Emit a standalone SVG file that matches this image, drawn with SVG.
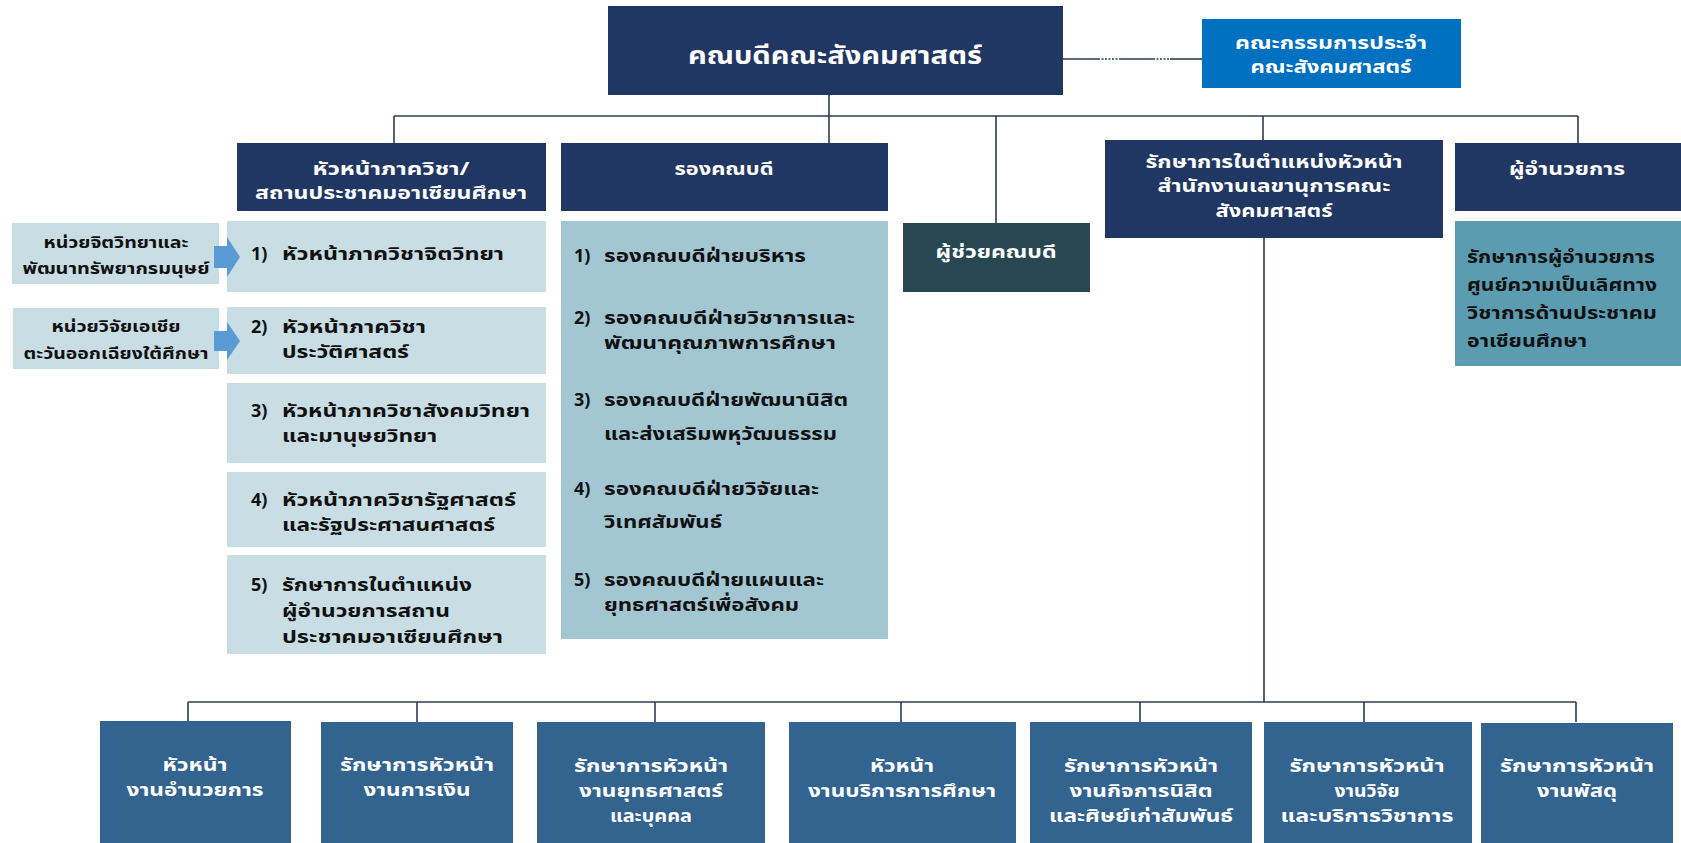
<svg xmlns="http://www.w3.org/2000/svg" width="1681" height="843" viewBox="0 0 1681 843">
<style>
text{font-family:Tahoma,"Noto Sans Thai","Noto Sans","DejaVu Sans",sans-serif;font-weight:bold}
.w{fill:#ffffff}
.k{fill:#111111}
.c{text-anchor:middle}
.t19{font-size:19px}
.t18{font-size:18px}
.t17{font-size:17.5px}
.t16{font-size:16.5px}
.t24{font-size:24px}
.navy{fill:#213763}
.mid{fill:#33638F}
.lt{fill:#C8DDE4}
.lt2{fill:#A3C6D3}
.arrow{fill:#5B9BD5}
.conn line{stroke:#2E3A4F;stroke-width:1.6;fill:none}
</style>
<rect width="1681" height="843" fill="#ffffff"/>
<g class="conn" id="connectors">
<line x1="829" y1="95" x2="829" y2="116"/>
<line x1="394" y1="116" x2="1578" y2="116"/>
<line x1="394" y1="116" x2="394" y2="143"/>
<line x1="829" y1="116" x2="829" y2="143"/>
<line x1="996" y1="116" x2="996" y2="223"/>
<line x1="1263" y1="116" x2="1263" y2="140"/>
<line x1="1578" y1="116" x2="1578" y2="143"/>
<line x1="1063" y1="59" x2="1098" y2="59"/>
<line x1="1098" y1="59" x2="1120" y2="59" stroke-dasharray="2 1.5"/>
<line x1="1120" y1="59" x2="1153" y2="59"/>
<line x1="1153" y1="59" x2="1170" y2="59" stroke-dasharray="2 1.5"/>
<line x1="1170" y1="59" x2="1202" y2="59"/>
<line x1="1264" y1="238" x2="1264" y2="702"/>
<line x1="188" y1="702" x2="1576" y2="702"/>
<line x1="188" y1="702" x2="188" y2="721"/>
<line x1="417" y1="702" x2="417" y2="722"/>
<line x1="655" y1="702" x2="655" y2="722"/>
<line x1="901" y1="702" x2="901" y2="722"/>
<line x1="1140" y1="702" x2="1140" y2="722"/>
<line x1="1364" y1="702" x2="1364" y2="722"/>
<line x1="1576" y1="702" x2="1576" y2="722"/>
</g>
<g id="dean">
<rect x="608" y="6" width="455" height="89" class="navy"/>
<text x="835" y="64" class="w c t24" textLength="294" lengthAdjust="spacingAndGlyphs">คณบดีคณะสังคมศาสตร์</text>
</g>
<g id="committee">
<rect x="1202" y="19" width="259" height="69" fill="#0070C0"/>
<text x="1331" y="49" class="w c t17" textLength="192" lengthAdjust="spacingAndGlyphs">คณะกรรมการประจำ</text>
<text x="1331" y="73" class="w c t17" textLength="161" lengthAdjust="spacingAndGlyphs">คณะสังคมศาสตร์</text>
</g>
<g id="head-dept">
<rect x="237" y="143" width="309" height="68" class="navy"/>
<text x="391" y="175" class="w c t17" textLength="157" lengthAdjust="spacingAndGlyphs">หัวหน้าภาควิชา/</text>
<text x="391" y="199" class="w c t17" textLength="272" lengthAdjust="spacingAndGlyphs">สถานประชาคมอาเซียนศึกษา</text>
</g>
<g id="deputy-dean">
<rect x="561" y="143" width="327" height="68" class="navy"/>
<text x="724" y="175" class="w c t18" textLength="99" lengthAdjust="spacingAndGlyphs">รองคณบดี</text>
</g>
<g id="assistant-dean">
<rect x="903" y="223" width="187" height="69" fill="#274852"/>
<text x="996" y="258" class="w c t18" textLength="121" lengthAdjust="spacingAndGlyphs">ผู้ช่วยคณบดี</text>
</g>
<g id="secretariat">
<rect x="1105" y="140" width="338" height="98" class="navy"/>
<text x="1274" y="168" class="w c t17" textLength="257" lengthAdjust="spacingAndGlyphs">รักษาการในตำแหน่งหัวหน้า</text>
<text x="1274" y="192" class="w c t17" textLength="233" lengthAdjust="spacingAndGlyphs">สำนักงานเลขานุการคณะ</text>
<text x="1274" y="217" class="w c t17" textLength="117" lengthAdjust="spacingAndGlyphs">สังคมศาสตร์</text>
</g>
<g id="director">
<rect x="1455" y="143" width="226" height="68" class="navy"/>
<text x="1567" y="175" class="w c t18" textLength="116" lengthAdjust="spacingAndGlyphs">ผู้อำนวยการ</text>
</g>
<g id="director-sub">
<rect x="1455" y="221" width="226" height="145" fill="#5C9CB1"/>
<text x="1467" y="263" class="k t18" textLength="188" lengthAdjust="spacingAndGlyphs">รักษาการผู้อำนวยการ</text>
<text x="1467" y="291" class="k t18" textLength="190" lengthAdjust="spacingAndGlyphs">ศูนย์ความเป็นเลิศทาง</text>
<text x="1467" y="319" class="k t18" textLength="190" lengthAdjust="spacingAndGlyphs">วิชาการด้านประชาคม</text>
<text x="1467" y="347" class="k t18" textLength="120" lengthAdjust="spacingAndGlyphs">อาเซียนศึกษา</text>
</g>
<g id="unit-psych">
<rect x="12" y="223" width="207" height="61" class="lt"/>
<text x="116" y="248" class="k c t16" textLength="145" lengthAdjust="spacingAndGlyphs">หน่วยจิตวิทยาและ</text>
<text x="116" y="274" class="k c t16" textLength="187" lengthAdjust="spacingAndGlyphs">พัฒนาทรัพยากรมนุษย์</text>
</g>
<g id="unit-sea">
<rect x="13" y="308" width="206" height="61" class="lt"/>
<text x="116" y="332" class="k c t16" textLength="129" lengthAdjust="spacingAndGlyphs">หน่วยวิจัยเอเชีย</text>
<text x="116" y="359" class="k c t16" textLength="185" lengthAdjust="spacingAndGlyphs">ตะวันออกเฉียงใต้ศึกษา</text>
</g>
<g id="dept-1">
<rect x="227" y="221" width="319" height="71" class="lt"/>
<text x="251" y="260" class="k t18">1)</text>
<text x="282" y="260" class="k t18" textLength="222" lengthAdjust="spacingAndGlyphs">หัวหน้าภาควิชาจิตวิทยา</text>
</g>
<g id="dept-2">
<rect x="227" y="307" width="319" height="67" class="lt"/>
<text x="251" y="333" class="k t18">2)</text>
<text x="282" y="333" class="k t18" textLength="144" lengthAdjust="spacingAndGlyphs">หัวหน้าภาควิชา</text>
<text x="282" y="358" class="k t18" textLength="127" lengthAdjust="spacingAndGlyphs">ประวัติศาสตร์</text>
</g>
<g id="dept-3">
<rect x="227" y="383" width="319" height="80" class="lt"/>
<text x="251" y="417" class="k t18">3)</text>
<text x="282" y="417" class="k t18" textLength="248" lengthAdjust="spacingAndGlyphs">หัวหน้าภาควิชาสังคมวิทยา</text>
<text x="282" y="442" class="k t18" textLength="155" lengthAdjust="spacingAndGlyphs">และมานุษยวิทยา</text>
</g>
<g id="dept-4">
<rect x="227" y="472" width="319" height="75" class="lt"/>
<text x="251" y="506" class="k t18">4)</text>
<text x="282" y="506" class="k t18" textLength="234" lengthAdjust="spacingAndGlyphs">หัวหน้าภาควิชารัฐศาสตร์</text>
<text x="282" y="531" class="k t18" textLength="213" lengthAdjust="spacingAndGlyphs">และรัฐประศาสนศาสตร์</text>
</g>
<g id="dept-5">
<rect x="227" y="555" width="319" height="99" class="lt"/>
<text x="251" y="591" class="k t18">5)</text>
<text x="282" y="591" class="k t18" textLength="190" lengthAdjust="spacingAndGlyphs">รักษาการในตำแหน่ง</text>
<text x="282" y="617" class="k t18" textLength="168" lengthAdjust="spacingAndGlyphs">ผู้อำนวยการสถาน</text>
<text x="282" y="643" class="k t18" textLength="221" lengthAdjust="spacingAndGlyphs">ประชาคมอาเซียนศึกษา</text>
</g>
<g id="arrows">
<path d="M214,246 h13 v-9 l13,20 l-13,20 v-9 h-13 z" class="arrow"/>
<path d="M214,331 h13 v-9 l13,19 l-13,19 v-9 h-13 z" class="arrow"/>
</g>
<g id="deputy-list">
<rect x="561" y="221" width="327" height="418" class="lt2"/>
<text x="574" y="262" class="k t18">1)</text>
<text x="604" y="262" class="k t18" textLength="202" lengthAdjust="spacingAndGlyphs">รองคณบดีฝ่ายบริหาร</text>
<text x="574" y="324" class="k t18">2)</text>
<text x="604" y="324" class="k t18" textLength="251" lengthAdjust="spacingAndGlyphs">รองคณบดีฝ่ายวิชาการและ</text>
<text x="604" y="349" class="k t18" textLength="232" lengthAdjust="spacingAndGlyphs">พัฒนาคุณภาพการศึกษา</text>
<text x="574" y="406" class="k t18">3)</text>
<text x="604" y="406" class="k t18" textLength="244" lengthAdjust="spacingAndGlyphs">รองคณบดีฝ่ายพัฒนานิสิต</text>
<text x="604" y="440" class="k t18" textLength="233" lengthAdjust="spacingAndGlyphs">และส่งเสริมพหุวัฒนธรรม</text>
<text x="574" y="495" class="k t18">4)</text>
<text x="604" y="495" class="k t18" textLength="215" lengthAdjust="spacingAndGlyphs">รองคณบดีฝ่ายวิจัยและ</text>
<text x="604" y="528" class="k t18" textLength="118" lengthAdjust="spacingAndGlyphs">วิเทศสัมพันธ์</text>
<text x="574" y="586" class="k t18">5)</text>
<text x="604" y="586" class="k t18" textLength="220" lengthAdjust="spacingAndGlyphs">รองคณบดีฝ่ายแผนและ</text>
<text x="604" y="611" class="k t18" textLength="195" lengthAdjust="spacingAndGlyphs">ยุทธศาสตร์เพื่อสังคม</text>
</g>
<g id="admin">
<rect x="100" y="721" width="191" height="122" class="mid"/>
<text x="195" y="771" class="w c t18" textLength="65" lengthAdjust="spacingAndGlyphs">หัวหน้า</text>
<text x="195" y="796" class="w c t18" textLength="137" lengthAdjust="spacingAndGlyphs">งานอำนวยการ</text>
</g>
<g id="finance">
<rect x="321" y="722" width="192" height="121" class="mid"/>
<text x="417" y="771" class="w c t18" textLength="154" lengthAdjust="spacingAndGlyphs">รักษาการหัวหน้า</text>
<text x="417" y="796" class="w c t18" textLength="107" lengthAdjust="spacingAndGlyphs">งานการเงิน</text>
</g>
<g id="strategy">
<rect x="537" y="722" width="228" height="121" class="mid"/>
<text x="651" y="772" class="w c t18" textLength="154" lengthAdjust="spacingAndGlyphs">รักษาการหัวหน้า</text>
<text x="651" y="797" class="w c t18" textLength="144" lengthAdjust="spacingAndGlyphs">งานยุทธศาสตร์</text>
<text x="651" y="822" class="w c t18" textLength="82" lengthAdjust="spacingAndGlyphs">และบุคคล</text>
</g>
<g id="education">
<rect x="789" y="722" width="227" height="121" class="mid"/>
<text x="902" y="772" class="w c t18" textLength="64" lengthAdjust="spacingAndGlyphs">หัวหน้า</text>
<text x="902" y="797" class="w c t18" textLength="188" lengthAdjust="spacingAndGlyphs">งานบริการการศึกษา</text>
</g>
<g id="student">
<rect x="1030" y="722" width="222" height="121" class="mid"/>
<text x="1141" y="772" class="w c t18" textLength="154" lengthAdjust="spacingAndGlyphs">รักษาการหัวหน้า</text>
<text x="1141" y="797" class="w c t18" textLength="143" lengthAdjust="spacingAndGlyphs">งานกิจการนิสิต</text>
<text x="1141" y="822" class="w c t18" textLength="184" lengthAdjust="spacingAndGlyphs">และศิษย์เก่าสัมพันธ์</text>
</g>
<g id="research">
<rect x="1264" y="722" width="208" height="121" class="mid"/>
<text x="1367" y="772" class="w c t18" textLength="155" lengthAdjust="spacingAndGlyphs">รักษาการหัวหน้า</text>
<text x="1367" y="797" class="w c t18" textLength="65" lengthAdjust="spacingAndGlyphs">งานวิจัย</text>
<text x="1367" y="822" class="w c t18" textLength="173" lengthAdjust="spacingAndGlyphs">และบริการวิชาการ</text>
</g>
<g id="supplies">
<rect x="1481" y="723" width="192" height="120" class="mid"/>
<text x="1577" y="772" class="w c t18" textLength="154" lengthAdjust="spacingAndGlyphs">รักษาการหัวหน้า</text>
<text x="1577" y="797" class="w c t18" textLength="80" lengthAdjust="spacingAndGlyphs">งานพัสดุ</text>
</g>
</svg>
